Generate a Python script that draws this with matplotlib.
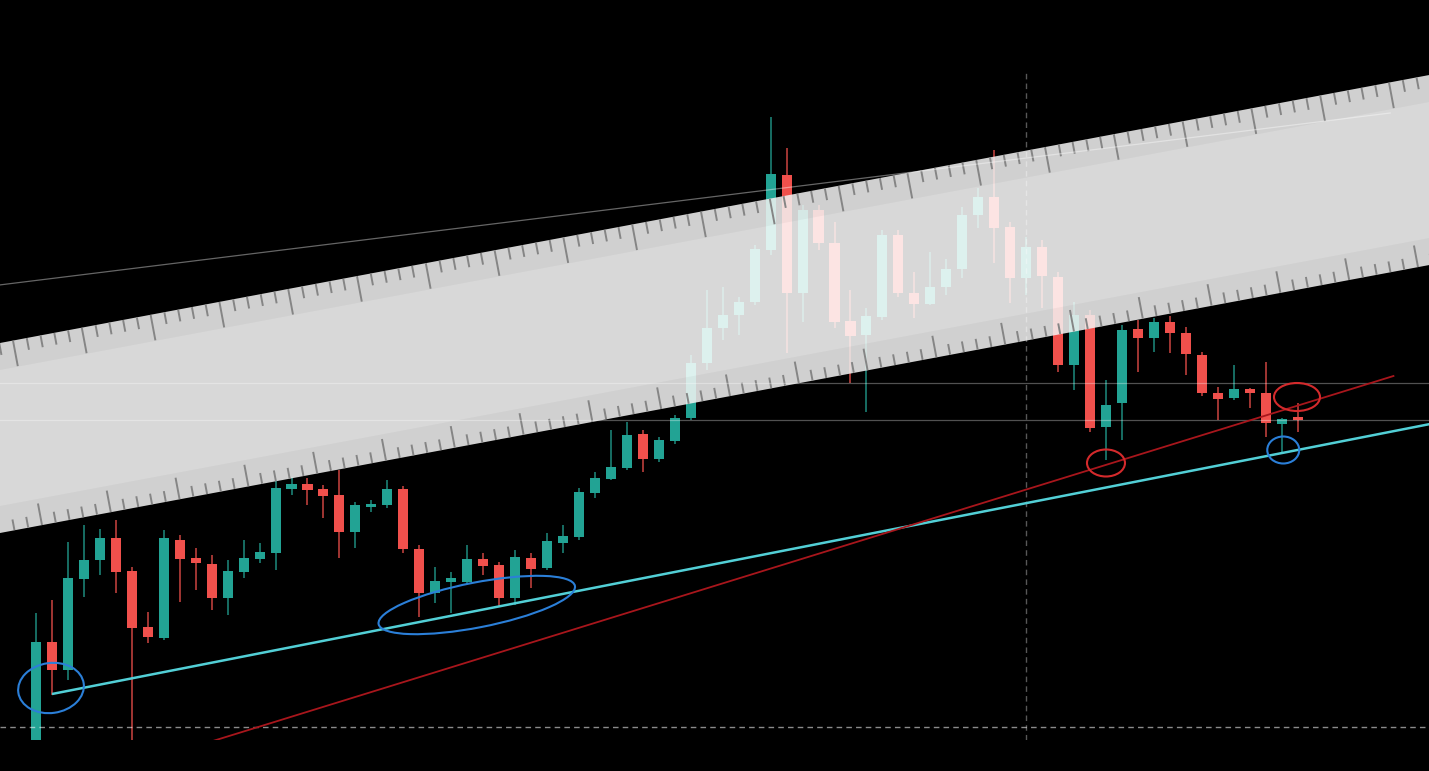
import numpy as np
import matplotlib
matplotlib.use("Agg")
import matplotlib.pyplot as plt
import matplotlib.transforms as mtransforms
from matplotlib.patches import Ellipse, Polygon
from matplotlib.collections import LineCollection

# candle data (price points), one entry per bar
opens = [20, 129, 101, 192, 211, 233, 200, 144, 133, 231, 213, 207, 173, 199, 212, 218,
         282, 287, 282, 276, 239, 264, 266, 282, 222, 178, 189, 189, 212, 206, 173, 213,
         203, 228, 234, 278, 292, 303, 337, 312, 330, 353, 408, 443, 456, 469, 521, 596,
         478, 561, 528, 450, 436, 454, 536, 478, 467, 484, 502, 556, 574, 544, 493, 524,
         494, 406, 456, 344, 368, 442, 433, 449, 438, 416, 378, 373, 382, 378, 347, 354]
highs = [158, 171, 229, 246, 242, 251, 204, 159, 241, 236, 223, 216, 211, 231, 228, 291,
         294, 293, 286, 301, 269, 271, 291, 285, 226, 204, 199, 226, 218, 209, 221, 218,
         238, 246, 283, 299, 341, 349, 341, 334, 356, 416, 481, 484, 474, 526, 654, 623,
         566, 566, 549, 481, 463, 541, 541, 499, 519, 512, 564, 583, 621, 549, 534, 531,
         499, 469, 461, 391, 446, 451, 453, 455, 444, 419, 384, 406, 383, 409, 353, 368]
lows = [5, 76, 91, 174, 196, 178, 11, 128, 131, 169, 181, 161, 156, 193, 208, 201,
        276, 266, 253, 213, 223, 259, 263, 218, 154, 168, 158, 187, 196, 164, 166, 183,
        201, 218, 231, 273, 291, 301, 299, 309, 327, 351, 401, 431, 436, 466, 516, 418,
        449, 521, 443, 388, 359, 451, 474, 453, 466, 476, 493, 543, 508, 468, 476, 463,
        399, 381, 339, 311, 331, 399, 419, 418, 396, 375, 351, 371, 363, 334, 318, 339]
closes = [129, 101, 193, 211, 233, 199, 143, 134, 233, 212, 208, 173, 200, 213, 219, 283,
          287, 281, 275, 239, 266, 266, 282, 222, 178, 190, 193, 212, 205, 173, 214, 202,
          230, 235, 279, 293, 304, 336, 312, 331, 353, 408, 443, 456, 469, 522, 597, 478,
          561, 528, 449, 435, 455, 536, 478, 467, 484, 502, 556, 574, 543, 493, 524, 495,
          406, 456, 343, 366, 441, 433, 449, 438, 417, 378, 372, 382, 378, 348, 352, 351]

# drawings on the chart: (bar index, price)
support_line = [(1, 77), (87.3, 347)]
rising_line = [(5, 0), (85, 395)]
upper_line = [(-2.3, 486), (84.8, 658)]
level_lines = [388, 351]
dashed_price = 44
cursor_bar = 62
blue_marks = [(0.94, 83, 66, 50, 8), (27.6, 166, 200, 45, 11), (78.1, 321, 32, 27, 0)]
red_marks = [(67.0, 308, 38, 27, 0), (78.96, 374, 46, 28, 0)]

W, H = 1429, 771
GREEN = "#22a394"
RED = "#f0504c"

fig = plt.figure(figsize=(W / 100, H / 100), dpi=100, facecolor="black")
ax = fig.add_axes([0, 31 / H, 1, 740 / H])
ax.set_facecolor("black")
ax.set_xlim(-36 / 15.97, (W - 36) / 15.97)
ax.set_ylim(31, 771)
ax.set_xticks([])
ax.set_yticks([])
for s in ax.spines.values():
    s.set_visible(False)

x = np.arange(len(opens))
o = np.array(opens)
c = np.array(closes)
up = c >= o
cols = np.where(up, GREEN, RED)
bottom = np.minimum(o, c)
height = np.maximum(np.abs(c - o), 3)

ax.vlines(x, lows, highs, colors=cols, lw=1.1, alpha=0.85, zorder=3)
ax.bar(x, height, bottom=bottom, width=0.63, color=cols, zorder=3)

# trend lines
(x0, y0), (x1, y1) = support_line
ax.plot([x0, x1], [y0, y1], color="#52cfd6", lw=1.8, zorder=7, solid_capstyle="butt")
(x0, y0), (x1, y1) = rising_line
ax.plot([x0, x1], [y0, y1], color="#a8161c", lw=1.3, zorder=7)

# faint lines (white, low alpha so they stay visible through the ruler)
(x0, y0), (x1, y1) = upper_line
ax.plot([x0, x1], [y0, y1], color="white", alpha=0.4, lw=0.9, zorder=6)
for lv in level_lines:
    ax.axhline(lv, color="white", alpha=0.32, lw=0.9, zorder=6)
ax.vlines(cursor_bar, 31, 701, color="white", alpha=0.35, lw=1.0,
          linestyles=(0, (4, 3)), zorder=6)
ax.axhline(dashed_price, color="white", alpha=0.55, lw=1.0,
           linestyle=(0, (4, 3)), zorder=6)

# ellipses, sized in pixels around a data point
def mark(cx, cy, w, h, ang, col):
    tr = fig.dpi_scale_trans + mtransforms.ScaledTranslation(cx, cy, ax.transData)
    e = Ellipse((0, 0), w / 100, h / 100, angle=ang, transform=tr,
                fill=False, ec=col, lw=1.5, zorder=8, clip_on=False)
    ax.add_patch(e)

for m in blue_marks:
    mark(*m, "#2b7fd8")
for m in red_marks:
    mark(*m, "#d42a2c")

# the ruler laid over the screen, in image pixels
px = mtransforms.Affine2D().scale(1 / W, -1 / H).translate(0, 1) + fig.transFigure
slope = 0.1875
top0, bot0, band = 343, 533, 27

def edge(y0_, xx):
    return y0_ - slope * xx

ruler = Polygon([(0, top0), (W, edge(top0, W)), (W, edge(bot0, W)), (0, bot0)],
                closed=True, fc="white", alpha=0.85, ec="none", transform=px,
                zorder=5, clip_on=False)
ax.add_patch(ruler)
for a, b in [(top0, top0 + band), (bot0 - band, bot0)]:
    ax.add_patch(Polygon([(0, a), (W, edge(a, W)), (W, edge(b, W)), (0, b)],
                         closed=True, fc="black", alpha=0.035, ec="none",
                         transform=px, zorder=5, clip_on=False))

th = np.arctan(slope)
nx, ny = np.sin(th), np.cos(th)
step = 68.8 / 5
segs = []
for k in range(-2, 110):
    xt = 13 + step * k
    L = 26 if k % 5 == 0 else 12
    yt = edge(top0, xt)
    segs.append([(xt, yt), (xt + L * nx, yt + L * ny)])
    xb = 42 + step * k
    L = 22 if k % 5 == 0 else 11
    yb = edge(bot0, xb)
    segs.append([(xb, yb), (xb - L * nx, yb - L * ny)])
ax.add_collection(LineCollection(segs, colors="#858585", lw=1.4, transform=px,
                                 zorder=5.5, clip_on=True,
                                 clip_path=ruler))

fig.savefig("out.png", dpi=100, facecolor="black")
